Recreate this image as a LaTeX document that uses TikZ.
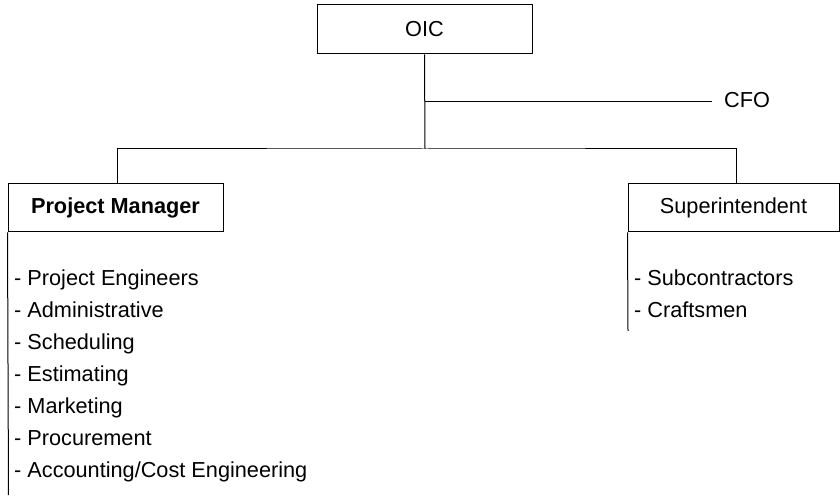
\documentclass[tikz,border=0pt]{standalone}
\usepackage{fontspec}
\setmainfont{Liberation Sans}
\usepackage{tikz}
\usetikzlibrary{positioning}
\tikzstyle{box} = [rectangle, draw, line width=1pt, inner sep=0pt,
    minimum width=215pt, minimum height=48pt, font=\fontsize{21.7}{26}\selectfont]
\tikzstyle{line} = [draw, line width=1pt]
\tikzstyle{item} = [inner sep=0pt, text height=15.5pt, text depth=4pt,
    font=\fontsize{21.7}{26}\selectfont]

\begin{document}
\begin{tikzpicture}[x=1pt, y=1pt, node distance = 12.1pt]
      \useasboundingbox (0,0) rectangle (840,495);
      % boxes
      \node [box, minimum height=49pt] (oic) at (424.5,465.5) {OIC};
      \node [box, font=\fontsize{21.7}{26}\selectfont\bfseries] (pm) at (115.5,287) {Project Manager};
      \node [box, minimum width=211pt] (sup) at (733.5,287) {Superintendent};
      \node [item, anchor=west, inner xsep=12pt] (cfo) at (712,393) {CFO};
      \coordinate (bus) at (425,346);
      \coordinate (pm-end) at (8.5,0);
      \coordinate (sup-end) at (628,164);
      % project manager staff
      \node [item, anchor=base west] (pe) at (14,209) {- Project Engineers};
      \node [item, below=of pe.south west, anchor=north west] (admin) {- Administrative};
      \node [item, below=of admin.south west, anchor=north west] (sched) {- Scheduling};
      \node [item, below=of sched.south west, anchor=north west] (est) {- Estimating};
      \node [item, below=of est.south west, anchor=north west] (mkt) {- Marketing};
      \node [item, below=of mkt.south west, anchor=north west] (proc) {- Procurement};
      \node [item, below=of proc.south west, anchor=north west] (acct) {- Accounting/Cost Engineering};
      % superintendent staff
      \node [item, anchor=base west] (subs) at (634,209) {- Subcontractors};
      \node [item, below=of subs.south west, anchor=north west] (craft) {- Craftsmen};
      % Draw edges
      \path [line] (oic.south) -- (bus);
      \path [line] (oic.south |- cfo.west) -- (cfo.west);
      \path [line] ([xshift=1.5pt]pm.north) |- (bus) -| ([xshift=2.5pt]sup.north);
      \path [line] (pm.south west) -- (pm-end);
      \path [line] (sup.south west) -- (sup-end);
  \end{tikzpicture}
\end{document}
